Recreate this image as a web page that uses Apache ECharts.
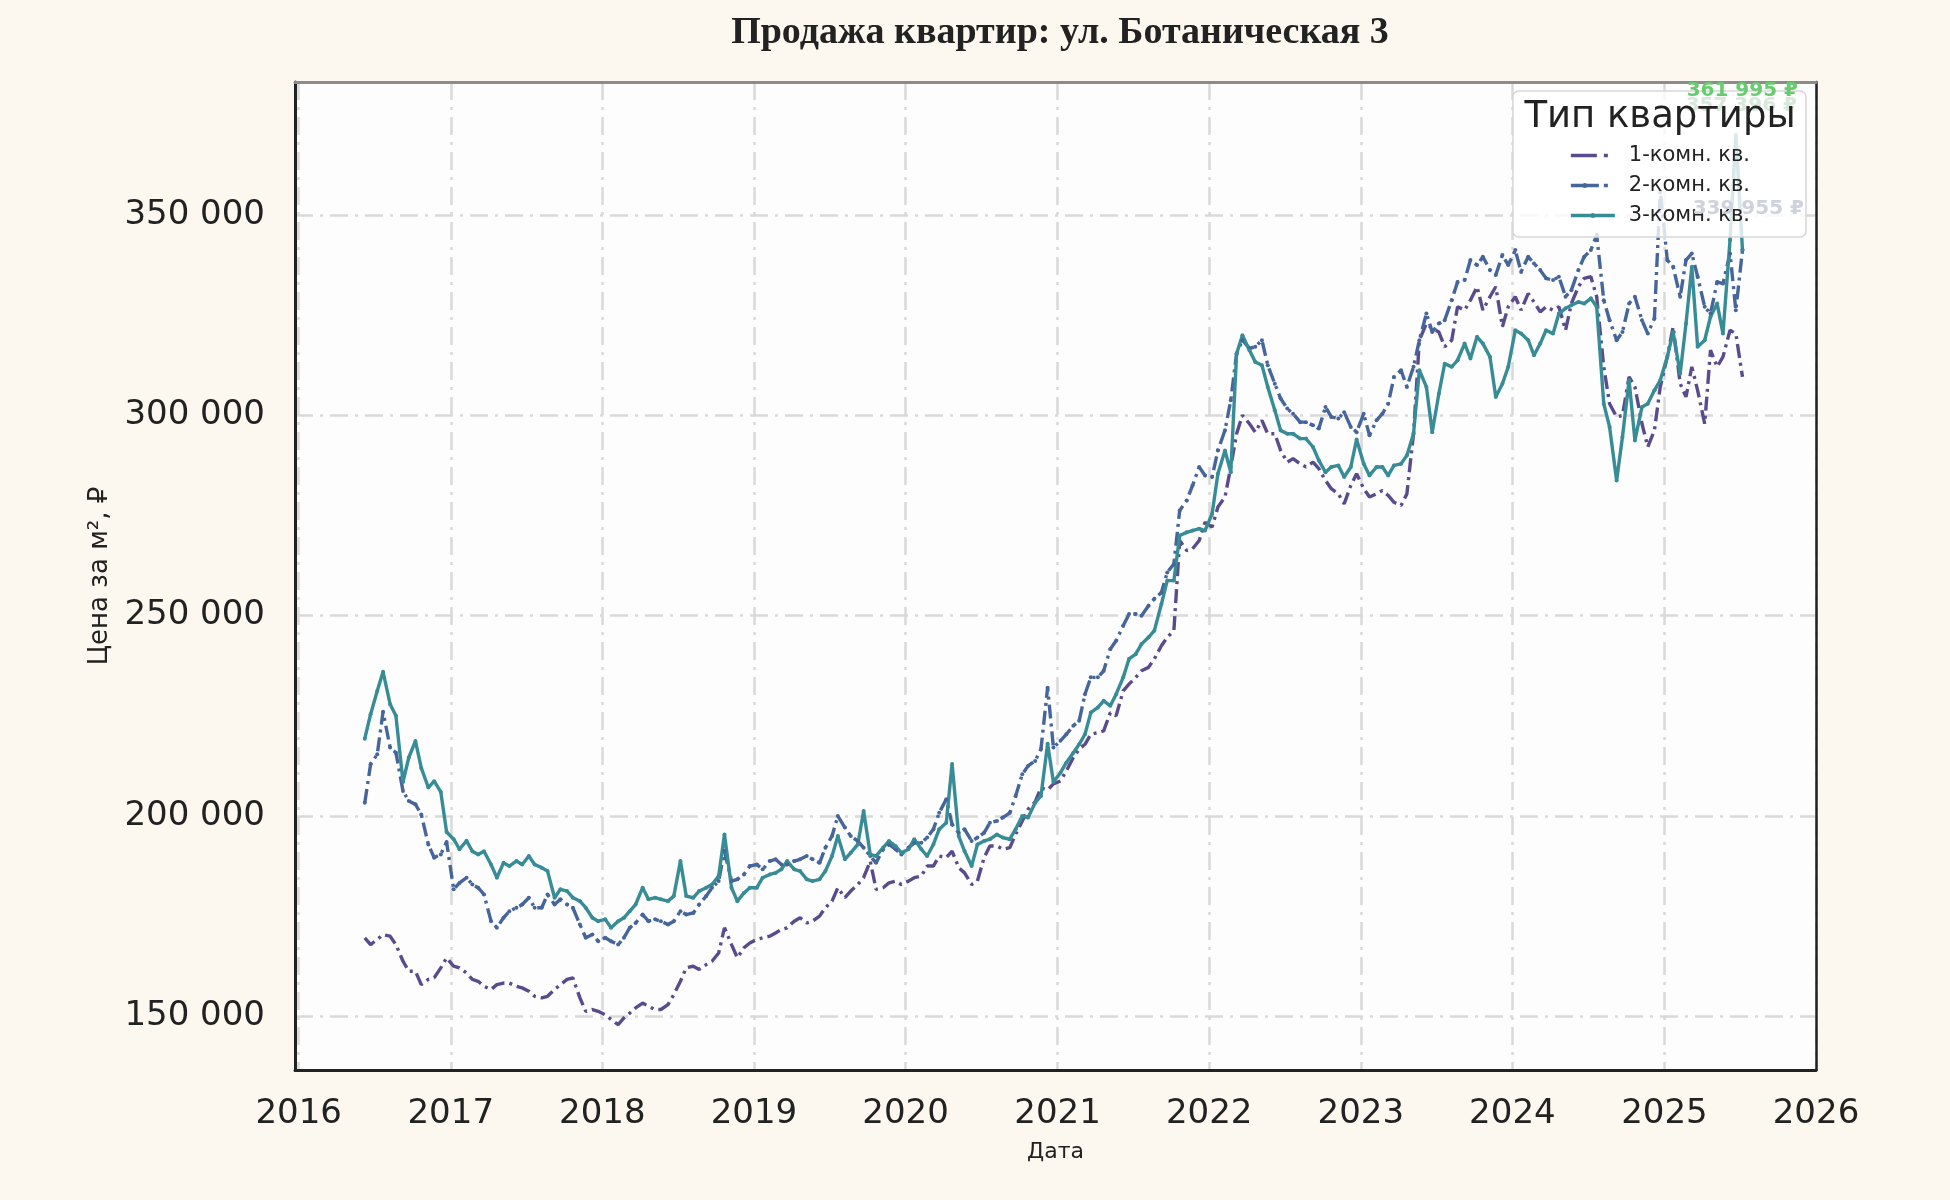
<!DOCTYPE html>
<html>
<head>
    <meta charset="utf-8"/>
    <title>Продажа квартир: ул. Ботаническая 3</title>
    <script src="https://cdn.jsdelivr.net/npm/echarts@6/dist/echarts.min.js"></script>
    <style>
        html, body { margin: 0; padding: 0; background: #fdf8ef; }
        #chart { width: 1950px; height: 1200px; }
    </style>
</head>
<body>
<div id="chart"></div>
<script>
    // серии: цена за м², замеры 8-го и 22-го числа, с июня 2016
    var seriesNames = ['1-комн. кв.', '2-комн. кв.', '3-комн. кв.'];
    var startYear = 2016, startMonth = 6;
    var sampleDays = [8, 22];

    var room1 = [
        169600, 167900, 169200, 170400, 170000, 167900, 163750, 161250, 161250, 157900,
        159200, 159600, 162100, 164600, 162500, 162100, 160800, 159200, 158750, 157500,
        156700, 157900, 158300, 158300, 157500, 157100, 156250, 155000, 154600, 155000,
        156700, 157900, 159200, 159600, 154600, 151250, 151700, 151250, 150400, 149200,
        147900, 149600, 150800, 152100, 153300, 152500, 151700,
        151700, 152900, 155400, 158750, 162100, 162500, 161700, 162900, 163750, 165800,
        172100, 167900, 164600, 167100, 168300, 169200, 169600, 170000, 170800, 171700,
        172100, 173750, 174600, 173300, 173750, 175000, 177100, 178750, 182100, 179600,
        181250, 182900, 184600, 188750, 181700, 182100, 183300, 183750, 182900, 183750,
        184600,
        185000, 187500, 187500, 190000, 189600, 191250, 187100, 185800, 182900, 183750,
        189600, 192500, 192500, 191700, 192100, 195400, 198750, 201700, 203500, 207000,
        206500,
        208000, 208750, 211250, 214600, 216700, 217900, 220400, 220800, 221250, 225800,
        225000, 231250, 232900, 234600, 236250, 237100, 239200, 242500, 244600, 246250,
        268750, 266250, 266700, 268750, 273300, 272100, 277100, 279600, 287100, 295400,
        300000, 297900, 295800, 298750, 295400, 295400,
        291250, 288300, 289200, 287900, 287100, 288300, 286700, 283750, 281700, 280400,
        277900, 282500, 285400, 281700, 279600, 280400, 281250, 280000, 278300, 277500,
        280400, 295400, 318750, 322900, 321700, 320800, 317100, 318750, 327100, 326250,
        328750, 332100, 326250, 329600, 332100, 322100, 327100, 329600,
        326250, 330400, 328300, 325800, 327100, 326250, 327100, 321250, 327900, 332100,
        334200, 334600, 329600, 312100, 302900, 299600, 300000, 309600, 307100, 297900,
        292100, 296250, 307100, 314600, 322100, 307900, 304600, 312100, 306250, 297900,
        316250, 312100, 314600, 321250, 320400, 309600
    ];

    var room2 = [
        203300, 212900, 215400, 226000, 217100, 215800, 206250, 203750, 202900, 200400,
        192900, 189600, 190400, 193500, 181700, 183300, 184600, 182900, 182100, 180400,
        173750, 172100, 174600, 176250, 177100, 177900, 179600, 177100, 177100, 180400,
        177900, 179200, 177900, 177100, 172900, 169600, 170400, 168750, 169600, 168750,
        167900, 169600, 172100, 173300, 175400, 173750, 174200,
        173750, 172900, 173750, 176250, 175400, 175800, 177900, 180000, 182100, 183750,
        191250, 183750, 184200, 185400, 187500, 187900, 186700, 188750, 189200, 187900,
        187900, 188750, 189200, 190000, 189200, 188300, 192100, 195000, 200000, 197100,
        195000, 193750, 192100, 190000, 188300, 191700, 192900, 191700, 190400, 192100,
        193300,
        193300, 194600, 196700, 200800, 204200, 197900, 195800, 196700, 193750, 194600,
        195800, 198300, 198750, 199600, 200800, 205000, 210400, 212500, 213750, 216700,
        232000,
        217100, 218750, 220400, 222500, 223750, 230400, 234600, 234600, 236250, 241700,
        243750, 247500, 250400, 250400, 250000, 252500, 254200, 255800, 260800, 262900,
        276250, 278750, 282500, 287100, 285000, 284600, 291250, 296250, 303750, 315400,
        318750, 316700, 317100, 318750, 312500, 307900,
        304200, 301700, 300400, 298300, 298300, 297500, 296700, 302100, 299600, 299200,
        300800, 297100, 295800, 300400, 295000, 298750, 300400, 302900, 309600, 311250,
        307100, 312100, 318750, 325400, 320800, 322900, 323750, 328750, 333300, 333750,
        338750, 337500, 339600, 336250, 335000, 340000, 337500, 341250,
        335800, 339600, 337900, 336250, 334200, 333750, 334600, 329600, 331250, 336250,
        339600, 341250, 345000, 328750, 323750, 318750, 320800, 327900, 329600, 323750,
        320400, 324200, 356000, 338750, 337100, 329600, 338750, 340400, 334600, 327100,
        325400, 333300, 332900, 340400, 326250, 341250
    ];

    var room3 = [
        219300, 225400, 231200, 236000, 227900, 225000, 208500, 214600, 218700, 212000,
        207100, 208700, 206000, 196000, 194200, 191700, 193800, 191200, 190400, 191200,
        187900, 184600, 188300, 187500, 188750, 187900, 190000, 187900, 187100, 186250,
        179600, 181700, 181250, 179600, 178750, 177100, 174600, 173750, 174200, 172100,
        173750, 174600, 176250, 177900, 182100, 179200, 179600,
        179200, 178750, 180000, 188750, 180000, 179600, 181250, 182100, 182900, 185000,
        195400, 182100, 178750, 180800, 182100, 182100, 184600, 185400, 185800, 186700,
        188750, 186700, 186250, 184200, 183750, 184200, 186250, 190000, 195000, 189200,
        190800, 192900, 201250, 190400, 190000, 192100, 193750, 192500, 190800, 191700,
        194200,
        191700, 190000, 192900, 196700, 198300, 213000, 195000, 191250, 187500, 192900,
        193750, 194200, 195400, 194600, 194200, 196700, 200000, 199600, 203300, 205000,
        218000,
        208500, 210800, 213300, 215800, 217900, 220400, 225800, 227100, 228750, 227500,
        230400, 234600, 239200, 240400, 242900, 244600, 246250, 252900, 258750, 258750,
        270000, 270800, 271250, 271700, 271250, 275400, 285400, 291250, 285800, 315400,
        320000, 316250, 313300, 312500, 307100, 301250,
        296250, 295400, 295400, 294200, 294200, 292100, 288750, 285800, 287100, 287500,
        284600, 287100, 294000, 287900, 285000, 287100, 287100, 285000, 287500, 287900,
        290000, 295400, 311250, 307100, 295800, 305400, 312900, 312100, 313750, 317900,
        314200, 319600, 317900, 314600, 304600, 307900, 312100, 321250,
        320400, 318750, 315000, 317900, 321250, 320400, 325400, 326700, 327500, 328300,
        327900, 329200, 327100, 302900, 297100, 283750, 294600, 308750, 293750, 302100,
        302900, 306250, 308750, 314600, 320800, 310400, 322900, 337100, 317100, 318750,
        324600, 327900, 320400, 343750, 370000, 341250
    ];

    var yTicksFrom = 136600, yTicksTo = 383200;
    var noteTexts = ['361 995 ₽', '357 396 ₽', '339 955 ₽'];

    // даты точек
    var dates = [];
    for (var m = 0; dates.length < room1.length; m++) {
        var yy = startYear + Math.floor((startMonth - 1 + m) / 12);
        var mm = (startMonth - 1 + m) % 12 + 1;
        for (var d = 0; d < sampleDays.length && dates.length < room1.length; d++) {
            dates.push(yy + '-' + (mm < 10 ? '0' : '') + mm + '-' + (sampleDays[d] < 10 ? '0' : '') + sampleDays[d]);
        }
    }

    function pairs(vals) {
        return vals.map(function (v, i) { return [dates[i], v]; });
    }

    function spaced(v) {
        return String(v).replace(/\B(?=(\d{3})+(?!\d))/g, ' ');
    }

    // значки легенды: штрих-пунктир / с маркером / сплошная с маркером
    var frame = 'M0,0L0,0M44,5L44,5';
    var dot = function (cx) { return 'M' + (cx - 2.5) + ',2.5a2.5,2.5 0 1,1 5,0a2.5,2.5 0 1,1 -5,0Z'; };
    var legendIcons = [
        'path://' + frame + 'M0,0.75H26V4.25H0ZM33,0.75H37V4.25H33Z',
        'path://' + frame + 'M0,0.75H28V4.25H0ZM33,0.75H37V4.25H33Z' + dot(14),
        'path://' + frame + 'M0,0.75H44V4.25H0Z' + dot(22)
    ];

    var gridDash = {color: '#d9d9d9', width: 2.5, type: [18, 7, 3, 7]};
    var font = 'DejaVu Sans';
    var year = 365 * 24 * 3600 * 1000;

    var myChart = echarts.init(document.getElementById('chart'));
    var option = {
        backgroundColor: '#fdf8ef',
        animation: false,
        title: {
            text: 'Продажа квартир: ул. Ботаническая 3',
            left: 1055,
            textAlign: 'center',
            top: 9,
            textStyle: {fontFamily: 'Liberation Serif', fontWeight: 'bold', fontSize: 38, color: '#222'}
        },
        grid: {
            left: 295, right: 134, top: 82, bottom: 130,
            show: true, backgroundColor: '#fdfdfd', borderWidth: 0
        },
        legend: {
            data: seriesNames.map(function (n, i) { return {name: n, icon: legendIcons[i]}; }),
            orient: 'vertical',
            right: 144,
            top: 91,
            padding: [54, 56, 11, 58],
            itemWidth: 44,
            itemHeight: 14,
            itemGap: 9,
            backgroundColor: 'rgba(255,255,255,0.8)',
            borderColor: '#d6d6d6',
            borderWidth: 1.5,
            borderRadius: 6,
            textStyle: {fontSize: 21, color: '#222', fontFamily: font, padding: [0, 0, 0, 9]}
        },
        graphic: [
            {type: 'text', z: 100, style: {text: noteTexts[1], x: 1797, y: 106, align: 'right', verticalAlign: 'middle',
                font: 'bold 20px "DejaVu Sans"', fill: '#d8e9db'}},
            {type: 'text', z: 100, style: {text: noteTexts[2], x: 1804, y: 209, align: 'right', verticalAlign: 'middle',
                font: 'bold 20px "DejaVu Sans"', fill: '#cdd2dd'}},
            {type: 'text', z: 100, style: {text: noteTexts[0], x: 1798, y: 91, align: 'right', verticalAlign: 'middle',
                font: 'bold 20px "DejaVu Sans"', fill: '#66cc6e'}},
            {type: 'text', z: 100, style: {text: 'Тип квартиры', x: 1660, y: 117, align: 'center', verticalAlign: 'middle',
                font: '37px "DejaVu Sans"', fill: '#222'}}
        ],
        xAxis: [{
            type: 'time',
            min: '2015-12-23',
            max: '2026-01-01',
            minInterval: year,
            maxInterval: year + 24 * 3600 * 1000,
            axisLine: {lineStyle: {color: '#222', width: 3}},
            axisTick: {show: false},
            axisLabel: {formatter: '{yyyy}', fontSize: 34, color: '#222', margin: 27, fontFamily: font,
                showMinLabel: false, showMaxLabel: true},
            splitLine: {show: true, lineStyle: gridDash},
            name: 'Дата',
            nameLocation: 'middle',
            nameGap: 71,
            nameTextStyle: {fontSize: 22, color: '#222', fontFamily: font}
        }, {
            type: 'time',
            position: 'top',
            min: '2015-12-23',
            max: '2026-01-01',
            axisLine: {lineStyle: {color: '#8c8c8c', width: 3}},
            axisTick: {show: false},
            axisLabel: {show: false},
            splitLine: {show: false}
        }],
        yAxis: [{
            type: 'value',
            min: yTicksFrom,
            max: yTicksTo,
            splitNumber: 5,
            axisLine: {show: true, lineStyle: {color: '#222', width: 3}},
            axisTick: {show: false},
            axisLabel: {fontSize: 34, color: '#222', margin: 30, fontFamily: font,
                showMinLabel: false, showMaxLabel: false, formatter: spaced},
            splitLine: {show: true, lineStyle: gridDash},
            name: 'Цена за м², ₽',
            nameLocation: 'middle',
            nameGap: 174,
            nameTextStyle: {fontSize: 26, color: '#222', fontFamily: font}
        }, {
            type: 'value',
            position: 'right',
            min: yTicksFrom,
            max: yTicksTo,
            axisLine: {show: true, lineStyle: {color: '#222', width: 2.5}},
            axisTick: {show: false},
            axisLabel: {show: false},
            splitLine: {show: false}
        }],
        series: [{
            name: seriesNames[0],
            type: 'line',
            data: pairs(room1),
            symbol: 'none',
            itemStyle: {color: '#5a4c8c'},
            lineStyle: {color: '#5a4c8c', width: 3.4, type: [14, 5, 3, 5]}
        }, {
            name: seriesNames[1],
            type: 'line',
            data: pairs(room2),
            symbol: 'circle',
            symbolSize: 4,
            showAllSymbol: true,
            itemStyle: {color: '#46659a'},
            lineStyle: {color: '#46659a', width: 3.4, type: [14, 5, 3, 5]}
        }, {
            name: seriesNames[2],
            type: 'line',
            data: pairs(room3),
            symbol: 'circle',
            symbolSize: 4,
            showAllSymbol: true,
            itemStyle: {color: '#378c96'},
            lineStyle: {color: '#378c96', width: 3.4}
        }]
    };
    myChart.setOption(option);
</script>
</body>
</html>
